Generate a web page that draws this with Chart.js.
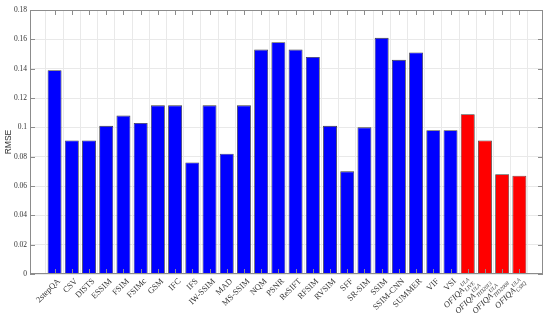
<!DOCTYPE html>
<html lang="en">
  <head>
    <meta charset="UTF-8" />
    <title>RMSE comparison</title>
    <style>
      * {
        margin: 0;
        padding: 0;
        box-sizing: border-box;
      }
      body {
        background: #fff;
      }
      .chart-box {
        width: 550px;
        height: 320px;
      }
    </style>
    <script src="https://cdn.jsdelivr.net/npm/chart.js"></script>
  </head>
  <body>
    <div class="chart-box">
      <canvas id="rmseChart"></canvas>
    </div>
    <script>
      // compared metrics (blue) and the four OFIQA variants (red)
      const baseMethods = [
        "2stepQA", "CSV", "DISTS", "ESSIM", "FSIM", "FSIMc", "GSM", "IFC",
        "IFS", "IW-SSIM", "MAD", "MS-SSIM", "NQM", "PSNR", "ReSIFT", "RFSIM",
        "RVSIM", "SFF", "SR-SIM", "SSIM", "SSIM-CNN", "SUMMER", "VIF", "VSI",
      ];
      const baseRmse = [
        0.139, 0.091, 0.091, 0.101, 0.108, 0.103, 0.115, 0.115,
        0.076, 0.115, 0.082, 0.115, 0.153, 0.158, 0.153, 0.148,
        0.101, 0.070, 0.100, 0.161, 0.146, 0.151, 0.098, 0.098,
      ];
      const ofiqaName = "OFIQA";
      const ofiqaSup = "ULA";
      const ofiqaSubs = ["LIVE", "TID2013", "TID2008", "CSIQ"];
      const ofiqaRmse = [0.109, 0.091, 0.068, 0.067];
      const yTicks = [0, 0.02, 0.04, 0.06, 0.08, 0.1, 0.12, 0.14, 0.16, 0.18];

      const allRmse = baseRmse.concat(ofiqaRmse);
      const nBars = allRmse.length;
      const barColors = allRmse.map((_, i) => (i < baseMethods.length ? "#0000ff" : "#ff0000"));

      const axisColor = "#8c8c8c";
      const serif = "'Liberation Serif', 'Times New Roman', serif";

      // box, inward tick marks and rotated x labels (MATLAB look)
      const matlabAxes = {
        id: "matlabAxes",
        afterDraw(chart) {
          const { ctx, chartArea: a, scales } = chart;
          const xs = scales.x;
          const ys = scales.y;
          const tl = 5;

          ctx.save();
          ctx.strokeStyle = axisColor;
          ctx.lineWidth = 1;
          ctx.strokeRect(a.left + 0.5, a.top + 0.5, a.right - a.left - 1, a.bottom - a.top - 1);

          ctx.beginPath();
          for (let i = 0; i < nBars; i++) {
            const x = Math.round(xs.getPixelForValue(i + 1)) + 0.5;
            ctx.moveTo(x, a.bottom);
            ctx.lineTo(x, a.bottom - tl);
            ctx.moveTo(x, a.top);
            ctx.lineTo(x, a.top + tl);
          }
          yTicks.forEach(v => {
            const y = Math.round(ys.getPixelForValue(v)) + 0.5;
            ctx.moveTo(a.left, y);
            ctx.lineTo(a.left + tl, y);
            ctx.moveTo(a.right, y);
            ctx.lineTo(a.right - tl, y);
          });
          ctx.stroke();

          ctx.fillStyle = "#333";
          for (let i = 0; i < nBars; i++) {
            const x = xs.getPixelForValue(i + 1);
            ctx.save();
            ctx.translate(x + 4.5, a.bottom + 6);
            ctx.rotate(-Math.PI / 4);
            ctx.textBaseline = "middle";
            if (i < baseMethods.length) {
              ctx.font = "8.5px " + serif;
              ctx.textAlign = "right";
              ctx.fillText(baseMethods[i], 0, 0);
            } else {
              const sub = ofiqaSubs[i - baseMethods.length];
              ctx.font = "italic 8.5px " + serif;
              const wMain = ctx.measureText(ofiqaName).width;
              ctx.font = "italic 5.5px " + serif;
              const wScript = Math.max(ctx.measureText(sub).width, ctx.measureText(ofiqaSup).width);
              const start = -(wMain + wScript + 1);
              ctx.textAlign = "left";
              ctx.font = "italic 8.5px " + serif;
              ctx.fillText(ofiqaName, start, 0);
              ctx.font = "italic 5.5px " + serif;
              ctx.fillText(ofiqaSup, start + wMain + 0.5, -3.5);
              ctx.fillText(sub, start + wMain + 0.5, 3);
            }
            ctx.restore();
          }
          ctx.restore();
        },
      };

      new Chart(document.getElementById("rmseChart"), {
        type: "bar",
        data: {
          datasets: [{
            data: allRmse.map((v, i) => ({ x: i + 1, y: v })),
            backgroundColor: barColors,
            borderColor: "#3a3a3a",
            borderWidth: 0.8,
            barPercentage: 0.81,
            categoryPercentage: 1,
          }],
        },
        options: {
          responsive: true,
          maintainAspectRatio: false,
          animation: false,
          layout: { padding: { left: 0, top: 10, right: 7, bottom: 46 } },
          plugins: { legend: { display: false }, tooltip: { enabled: false } },
          scales: {
            x: {
              type: "linear",
              min: 0.104,
              max: 28.84,
              afterBuildTicks: scale => {
                scale.ticks = allRmse.map((_, i) => ({ value: i + 1 }));
              },
              ticks: { display: false },
              grid: { color: "#e9e9e9", drawTicks: false },
              border: { display: false },
            },
            y: {
              min: 0,
              max: 0.18,
              afterBuildTicks: scale => {
                scale.ticks = yTicks.map(v => ({ value: v }));
              },
              afterFit: scale => {
                scale.width = 30;
              },
              ticks: {
                padding: 3,
                color: "#333",
                font: { family: serif, size: 7.5 },
                callback: v => String(+v.toFixed(2)),
              },
              grid: { color: "#e9e9e9", drawTicks: false },
              border: { display: false },
              title: {
                display: true,
                text: "RMSE",
                color: "#333",
                font: { family: "'Liberation Sans', Arial, sans-serif", size: 8.5 },
                padding: { top: 4, bottom: 0 },
              },
            },
          },
        },
        plugins: [matlabAxes],
      });
    </script>
  </body>
</html>
